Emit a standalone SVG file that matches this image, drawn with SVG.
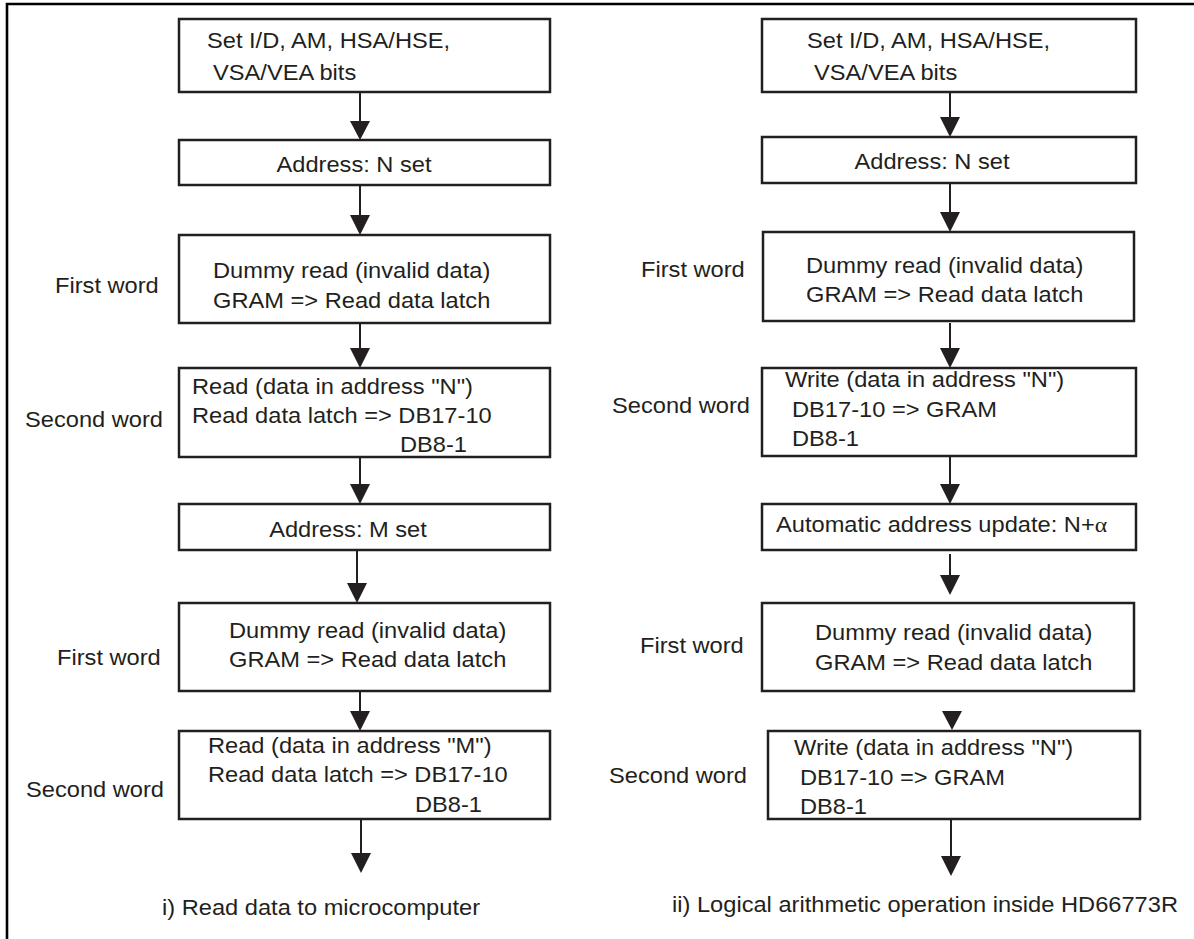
<svg xmlns="http://www.w3.org/2000/svg" width="1194" height="939" viewBox="0 0 1194 939">
<style>
  .bg { fill: #ffffff; }
  .frame { fill: none; stroke: #000000; stroke-width: 2.6; }
  .box { fill: #ffffff; stroke: #231f20; stroke-width: 2.5; }
  .shaft { fill: none; stroke: #231f20; stroke-width: 2; }
  .head { fill: #231f20; stroke: none; }
  text { font-family: "Liberation Sans", Arial, Helvetica, sans-serif; font-size: 21.5px; fill: #231f20; }
  .mid { text-anchor: middle; }
  .sym { font-family: "Liberation Serif", "Times New Roman", serif; }
</style>
<rect class="bg" x="0" y="0" width="1194" height="939"/>
<path class="frame" d="M7,939 V4 H1194"/>

<g id="connectors">
  <!-- left column -->
  <path class="shaft" d="M360,92 V124"/><path class="head" d="M350,121 H370 L360,140 Z"/>
  <path class="shaft" d="M360,185 V218"/><path class="head" d="M350,215 H370 L360,235 Z"/>
  <path class="shaft" d="M360,323 V351"/><path class="head" d="M350,348 H370 L360,368 Z"/>
  <path class="shaft" d="M360,457 V487"/><path class="head" d="M350,484 H370 L360,504 Z"/>
  <path class="shaft" d="M357,550 V586"/><path class="head" d="M347,583 H367 L357,603 Z"/>
  <path class="shaft" d="M360,691 V714"/><path class="head" d="M350,711 H370 L360,731 Z"/>
  <path class="shaft" d="M361,819 V856"/><path class="head" d="M351,853 H371 L361,873 Z"/>
  <!-- right column -->
  <path class="shaft" d="M950,92 V120"/><path class="head" d="M940,117 H960 L950,137 Z"/>
  <path class="shaft" d="M950,183 V215"/><path class="head" d="M940,212 H960 L950,232 Z"/>
  <path class="shaft" d="M950,323 V351"/><path class="head" d="M940,348 H960 L950,368 Z"/>
  <path class="shaft" d="M950,456 V487"/><path class="head" d="M940,484 H960 L950,504 Z"/>
  <path class="shaft" d="M950,554 V578"/><path class="head" d="M940,575 H960 L950,595 Z"/>
  <path class="head" d="M942,711 H962 L952,730 Z"/>
  <path class="shaft" d="M951,819 V859"/><path class="head" d="M941,856 H961 L951,876 Z"/>
</g>

<!-- Left flow -->
<g id="l1">
  <rect class="box" x="179" y="19" width="371" height="73"/>
  <text transform="translate(207,48) scale(1.1,1)">Set I/D, AM, HSA/HSE,</text>
  <text transform="translate(213,80) scale(1.1,1)">VSA/VEA bits</text>
</g>
<g id="l2">
  <rect class="box" x="179" y="140" width="371" height="45"/>
  <text class="mid" transform="translate(354,172) scale(1.1,1)">Address: N set</text>
</g>
<g id="l3">
  <rect class="box" x="179" y="235" width="371" height="88"/>
  <text transform="translate(213,278) scale(1.1,1)">Dummy read (invalid data)</text>
  <text transform="translate(213,308) scale(1.1,1)">GRAM =&gt; Read data latch</text>
  <text transform="translate(55,293) scale(1.1,1)">First word</text>
</g>
<g id="l4">
  <rect class="box" x="179" y="368" width="371" height="89"/>
  <text transform="translate(192,394) scale(1.1,1)">Read (data in address "N")</text>
  <text transform="translate(192,423) scale(1.1,1)">Read data latch =&gt; DB17-10</text>
  <text transform="translate(400,452) scale(1.1,1)">DB8-1</text>
  <text transform="translate(25,427) scale(1.1,1)">Second word</text>
</g>
<g id="l5">
  <rect class="box" x="179" y="504" width="371" height="46"/>
  <text class="mid" transform="translate(348,537) scale(1.1,1)">Address: M set</text>
</g>
<g id="l6">
  <rect class="box" x="179" y="603" width="371" height="88"/>
  <text transform="translate(229,638) scale(1.1,1)">Dummy read (invalid data)</text>
  <text transform="translate(229,667) scale(1.1,1)">GRAM =&gt; Read data latch</text>
  <text transform="translate(57,665) scale(1.1,1)">First word</text>
</g>
<g id="l7">
  <rect class="box" x="179" y="731" width="371" height="88"/>
  <text transform="translate(208,753) scale(1.1,1)">Read (data in address "M")</text>
  <text transform="translate(208,782) scale(1.1,1)">Read data latch =&gt; DB17-10</text>
  <text transform="translate(415,812) scale(1.1,1)">DB8-1</text>
  <text transform="translate(26,797) scale(1.1,1)">Second word</text>
</g>
<g id="caption-left">
  <text transform="translate(162,915) scale(1.1,1)">i) Read data to microcomputer</text>
</g>

<!-- Right flow -->
<g id="r1">
  <rect class="box" x="762" y="19" width="374" height="73"/>
  <text transform="translate(807,48) scale(1.1,1)">Set I/D, AM, HSA/HSE,</text>
  <text transform="translate(814,80) scale(1.1,1)">VSA/VEA bits</text>
</g>
<g id="r2">
  <rect class="box" x="762" y="137" width="374" height="46"/>
  <text class="mid" transform="translate(932,169) scale(1.1,1)">Address: N set</text>
</g>
<g id="r3">
  <rect class="box" x="763" y="232" width="371" height="89"/>
  <text transform="translate(806,273) scale(1.1,1)">Dummy read (invalid data)</text>
  <text transform="translate(806,302) scale(1.1,1)">GRAM =&gt; Read data latch</text>
  <text transform="translate(641,277) scale(1.1,1)">First word</text>
</g>
<g id="r4">
  <rect class="box" x="762" y="368" width="374" height="88"/>
  <text transform="translate(785,387) scale(1.1,1)">Write (data in address "N")</text>
  <text transform="translate(792,417) scale(1.1,1)">DB17-10 =&gt; GRAM</text>
  <text transform="translate(792,446) scale(1.1,1)">DB8-1</text>
  <text transform="translate(612,413) scale(1.1,1)">Second word</text>
</g>
<g id="r5">
  <rect class="box" x="762" y="504" width="374" height="46"/>
  <text transform="translate(776,532) scale(1.1,1)">Automatic address update: N+<tspan class="sym">α</tspan></text>
</g>
<g id="r6">
  <rect class="box" x="762" y="603" width="372" height="88"/>
  <text transform="translate(815,640) scale(1.1,1)">Dummy read (invalid data)</text>
  <text transform="translate(815,670) scale(1.1,1)">GRAM =&gt; Read data latch</text>
  <text transform="translate(640,653) scale(1.1,1)">First word</text>
</g>
<g id="r7">
  <rect class="box" x="768" y="731" width="372" height="88"/>
  <text transform="translate(794,755) scale(1.1,1)">Write (data in address "N")</text>
  <text transform="translate(800,785) scale(1.1,1)">DB17-10 =&gt; GRAM</text>
  <text transform="translate(800,814) scale(1.1,1)">DB8-1</text>
  <text transform="translate(609,783) scale(1.1,1)">Second word</text>
</g>
<g id="caption-right">
  <text transform="translate(672,912) scale(1.1,1)">ii) Logical arithmetic operation inside HD66773R</text>
</g>
</svg>
